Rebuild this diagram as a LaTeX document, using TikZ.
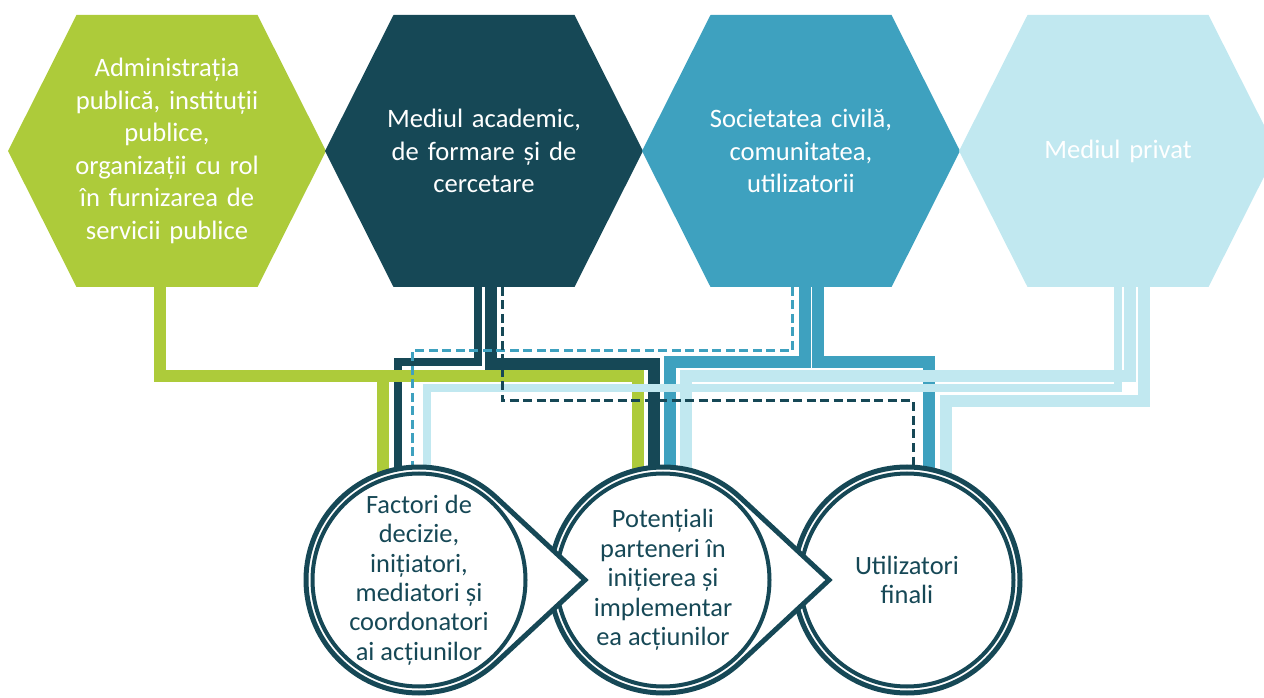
\documentclass[tikz,border=0pt]{standalone}
\usepackage{fontspec}
\setmainfont{Carlito}
\usetikzlibrary{calc}
\pgfdeclarelayer{background}
\pgfsetlayers{background,main}
\definecolor{leaf}{RGB}{173,203,58}
\definecolor{deep}{RGB}{22,72,86}
\definecolor{sea}{RGB}{62,161,191}
\definecolor{pale}{RGB}{193,232,240}

\begin{document}
\begin{tikzpicture}[x=0.5pt,y=0.5pt,
  hexnode/.style={text width=115pt,inner sep=0pt,outer sep=0pt,align=center,text=white,font=\fontsize{13.3}{16.3}\selectfont},
  stage/.style={circle,draw=deep,line width=2pt,fill=white,minimum size=106.5pt,inner sep=-8pt,outer sep=0pt,align=center,text=deep,font=\fontsize{13.2}{14.7}\selectfont},
  rim/.style={draw=deep,line width=2.5pt,fill=white},
  wire/.style={line width=5.75pt},
  fine/.style={line width=4pt},
  dashline/.style={line width=1.5pt,dash pattern=on 4.5pt off 2.25pt}]
\useasboundingbox (0,0) rectangle (1264,697);

\node[hexnode] (adm) at (167,546) {Administrația\\publică, instituții\\publice,\\organizații cu rol\\în furnizarea de\\servicii publice};
\node[hexnode] (acad) at (484,546) {Mediul academic,\\de formare și de\\cercetare};
\node[hexnode] (soc) at (801,546) {Societatea civilă,\\comunitatea,\\utilizatorii};
\node[hexnode] (priv) at (1118,546) {Mediul privat};

\filldraw[rim] (907,117) circle[radius=113];
\node[stage] (util) at (907,117) {Utilizatori\\finali};
\filldraw[rim] (663,117) ++(47:113) arc[start angle=47,end angle=313,radius=113] -- (829,117) -- cycle;
\node[stage] (part) at (663,117) {Potențiali\\parteneri în\\inițierea și\\implementar\\ea acțiunilor};
\filldraw[rim] (419,117) ++(47:113) arc[start angle=47,end angle=313,radius=113] -- (585,117) -- cycle;
\node[stage] (fact) at (419,117) {Factori de\\decizie,\\inițiatori,\\mediatori și\\coordonatori\\ai acțiunilor};

\begin{pgfonlayer}{background}
\foreach \h/\c in {adm/leaf,acad/deep,soc/sea,priv/pale}
  \fill[\c] ($(\h)+(-90.5,136)$) -- ($(\h)+(90.5,136)$) -- ($(\h)+(159,0)$) -- ($(\h)+(90.5,-136)$) -- ($(\h)+(-90.5,-136)$) -- ($(\h)+(-159,0)$) -- cycle;
\draw[wire,deep] ($(acad)+(7,-136)$) -- ++(0,-77) -| ($(part.north)+(-9,0)$);
\draw[fine,deep] ($(acad)+(-6,-136)$) -- ++(0,-75) -| ($(fact.north)+(-21,0)$);
\draw[wire,sea] ($(soc)+(4,-136)$) -- ++(0,-75) -| ($(part.north)+(7,0)$);
\draw[wire,sea] ($(soc)+(17,-136)$) -- ++(0,-75) -| ($(util.north)+(22,0)$);
\draw[wire,leaf] ($(adm)+(-7,-136)$) -- ++(0,-89) -| ($(fact.north)+(-36,0)$);
\draw[wire,leaf] ($(adm)+(-7,-136)$) -- ++(0,-89) -| ($(part.north)+(-25,0)$);
\draw[fine,pale] ($(priv)+(0,-136)$) -- ++(0,-101) -| ($(fact.north)+(8,0)$);
\draw[wire,pale] ($(priv)+(12,-136)$) -- ++(0,-89) -| ($(part.north)+(23,0)$);
\draw[wire,pale] ($(priv)+(26,-136)$) -- ++(0,-114) -| ($(util.north)+(39,0)$);
\draw[dashline,sea] ($(soc)+(-9,-136)$) -- ++(0,-64) -| ($(fact.north)+(-7,0)$);
\draw[dashline,deep] ($(acad)+(18,-136)$) -- ++(0,-114) -| ($(util.north)+(6,0)$);
\end{pgfonlayer}
\end{tikzpicture}
\end{document}
